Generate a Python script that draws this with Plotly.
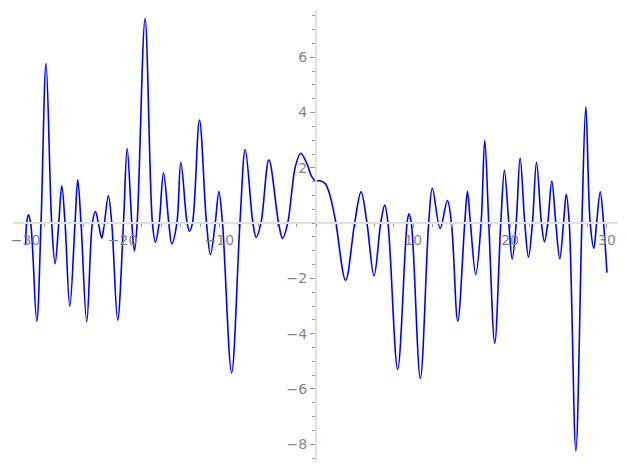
import plotly.graph_objects as go

# Curve samples (x, y)
x_vals = [
    -30.0, -29.89, -29.72, -29.48, -28.85, -28.41, -27.89, -27.31, -26.96, -26.58,
    -26.27, -25.93, -25.44, -24.90, -24.62, -24.28, -23.69, -23.11, -22.80, -22.49,
    -22.14, -21.87, -21.46, -21.11, -20.50, -19.90, -19.52, -19.04, -18.77, -18.49,
    -17.67, -16.91, -16.60, -16.22, -15.77, -15.22, -14.91, -14.39, -13.98, -13.33,
    -13.09, -12.78, -12.06, -11.33, -10.92, -10.43, -10.05, -9.68, -8.74, -7.88,
    -7.33, -6.54, -6.20, -5.71, -4.89, -3.89, -3.48, -2.95, -2.51, -2.17,
    -1.61, -0.99, -0.47, -0.13, 0.38, 0.90, 1.35, 1.76, 2.03, 3.03,
    3.96, 4.62, 5.23, 5.96, 6.65, 7.06, 7.40, 8.40, 9.37, 9.57,
    9.81, 10.74, 11.60, 11.98, 12.78, 13.53, 13.95, 14.60, 15.32, 15.60,
    15.91, 16.46, 17.01, 17.39, 17.80, 18.42, 19.04, 19.42, 19.87, 20.22,
    20.63, 21.04, 21.52, 21.90, 22.31, 22.73, 23.24, 23.55, 23.89, 24.31,
    24.72, 25.13, 25.52, 25.80, 26.11, 26.79, 27.41, 27.82, 28.27, 28.65,
    28.93, 29.31, 29.65, 30.0,
]
y_vals = [
    -0.80, 0.0, 0.30, 0.0, -3.55, 0.0, 5.78, 0.0, -1.47, 0.0,
    1.35, 0.0, -3.01, 0.0, 1.57, 0.0, -3.57, 0.0, 0.42, 0.0,
    -0.54, 0.0, 0.99, 0.0, -3.51, 0.0, 2.71, 0.0, -1.01, 0.0,
    7.40, 0.0, -0.69, 0.0, 1.82, 0.0, -0.75, 0.0, 2.20, 0.0,
    -0.29, 0.0, 3.73, 0.0, -1.14, 0.0, 1.14, 0.0, -5.42, 0.0,
    2.66, 0.0, -0.52, 0.0, 2.29, 0.0, -0.55, 0.0, 1.19, 2.03,
    2.53, 2.17, 1.68, 1.54, 1.53, 1.44, 1.08, 0.48, 0.0, -2.07,
    0.0, 1.13, 0.0, -1.91, 0.0, 0.65, 0.0, -5.29, 0.0, 0.34,
    0.0, -5.62, 0.0, 1.26, -0.19, 0.82, 0.0, -3.55, 0.0, 1.14,
    0.0, -1.86, 0.0, 3.00, 0.0, -4.34, 0.0, 1.91, 0.0, -1.30,
    0.0, 2.35, 0.0, -1.23, 0.0, 2.20, 0.0, -0.67, 0.0, 1.52,
    0.0, -1.29, 0.0, 1.04, 0.0, -8.24, 0.0, 4.21, 0.0, -0.91,
    0.0, 1.13, 0.0, -1.79,
]

x_ticks = [-30, -20, -10, 10, 20, 30]
y_ticks = [-8, -6, -4, -2, 2, 4, 6]

fig = go.Figure()
fig.add_trace(go.Scatter(
    x=x_vals, y=y_vals, mode="lines",
    line=dict(color="#0000ff", width=1.6, shape="spline", smoothing=1.0),
    hoverinfo="skip", showlegend=False,
))

axis_font = dict(family="DejaVu Sans", size=14, color="#868686")

fig.update_layout(
    template="none",
    width=627, height=470,
    margin=dict(l=0, r=0, t=0, b=0, autoexpand=False),
    paper_bgcolor="white", plot_bgcolor="white",
    xaxis=dict(
        domain=[0.0203, 0.9861],
        range=[-31.33, 31.17],
        anchor="free", position=0.5251,
        automargin=False,
        showgrid=False, zeroline=False,
        showline=True, linecolor="#e0e0e0", linewidth=2,
        ticks="outside", ticklen=4, tickcolor="#999999", tickwidth=1,
        tickvals=x_ticks, ticktext=[str(v).replace("-", "\u2212") for v in x_ticks],
        tickfont=axis_font,
        minor=dict(dtick=2, ticks="outside", ticklen=3, tickcolor="#999999", showgrid=False),
    ),
    yaxis=dict(
        domain=[0.0177, 0.9787],
        range=[-8.63, 7.71],
        anchor="free", position=0.504,
        automargin=False,
        showgrid=False, zeroline=False,
        showline=True, linecolor="#e0e0e0", linewidth=2,
        ticks="outside", ticklen=5, tickcolor="#999999", tickwidth=1,
        tickvals=y_ticks, ticktext=[str(v).replace("-", "\u2212") for v in y_ticks],
        tickfont=axis_font,
        minor=dict(dtick=0.5, ticks="outside", ticklen=3, tickcolor="#999999", showgrid=False),
    ),
)

fig.write_html(
    "out.html",
    config={"displayModeBar": False},
    post_script="document.body.style.margin='0';document.body.style.overflow='hidden';",
)
